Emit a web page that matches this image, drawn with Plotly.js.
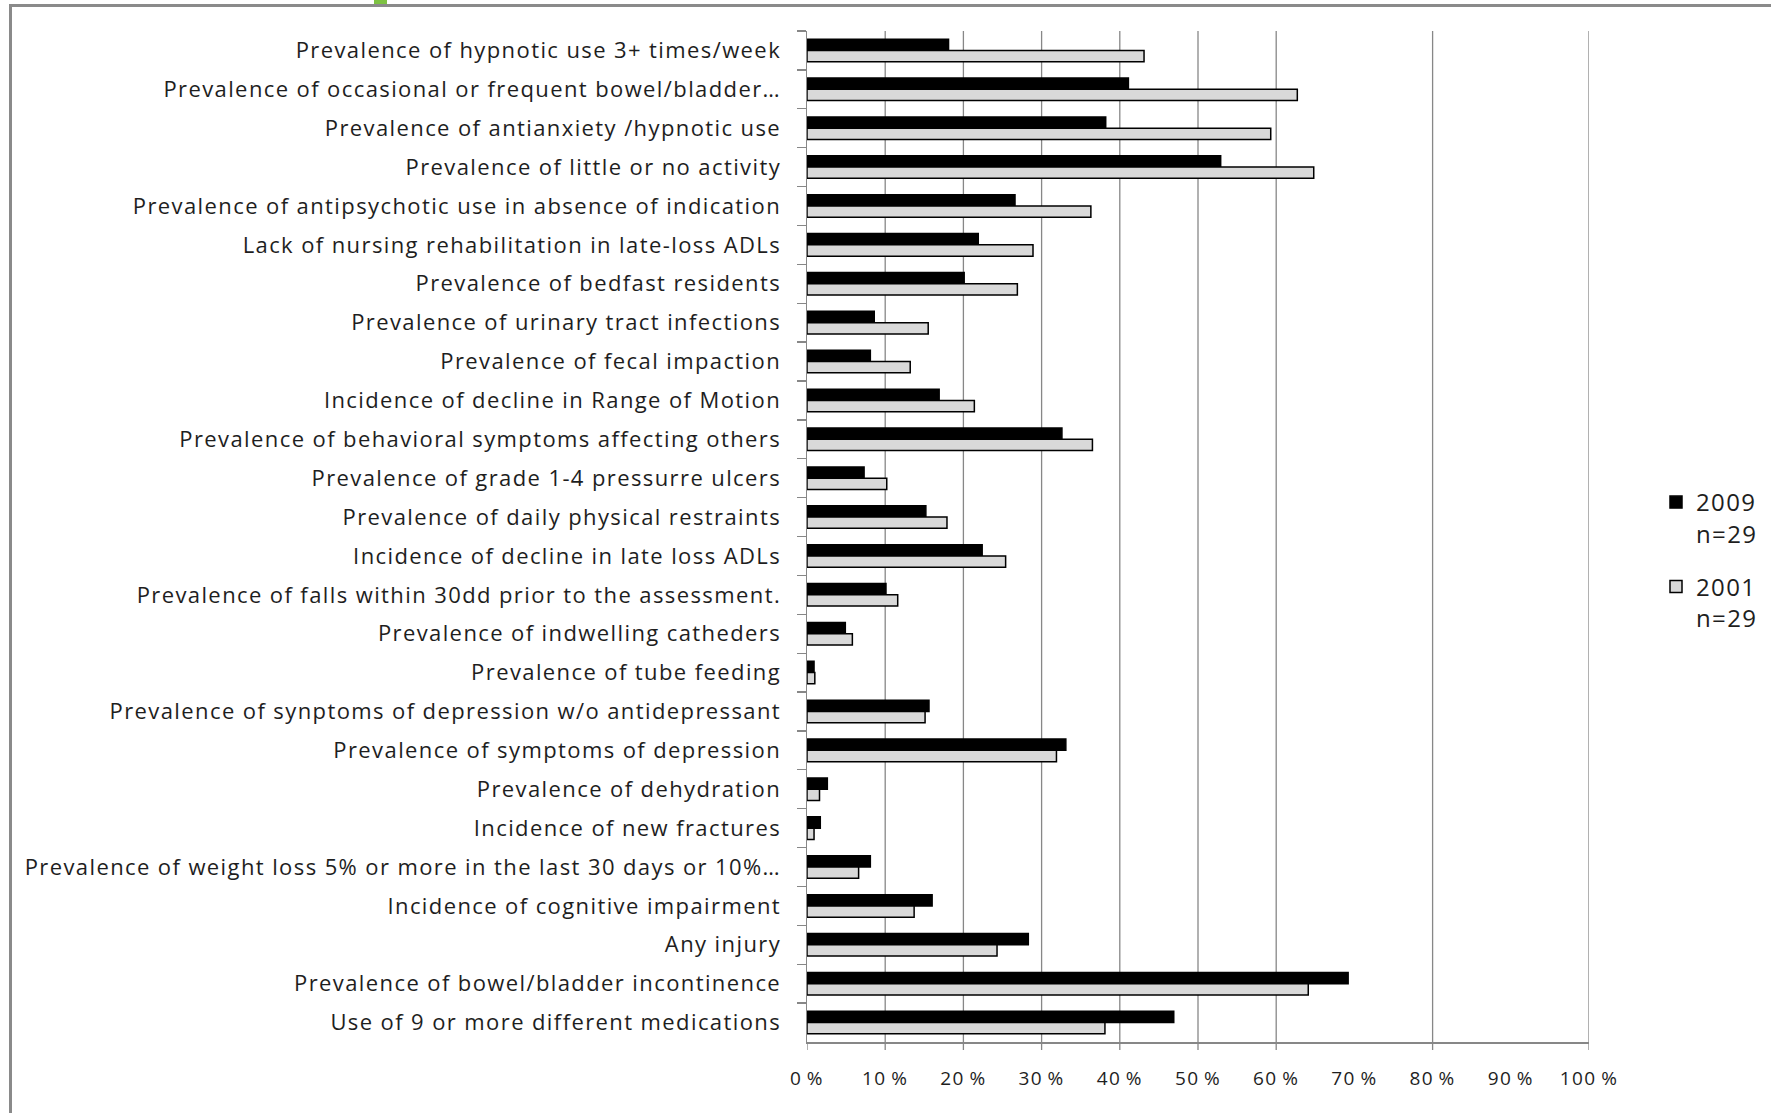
<!DOCTYPE html>
<html>
<head>
<meta charset="utf-8">
<script src="https://cdn.plot.ly/plotly-3.0.1.min.js"></script>
<style>
  html, body { margin: 0; padding: 0; background: #fff; }
  #chart { width: 1771px; height: 1113px; }
  #chart .ytick text, #chart .xtick text, #chart .legendtext { letter-spacing: 1.4px; }
</style>
</head>
<body>
<div id="chart"></div>
<script>
const categories = [
  "Prevalence of hypnotic use 3+ times/week",
  "Prevalence of occasional or frequent bowel/bladder…",
  "Prevalence of antianxiety /hypnotic use",
  "Prevalence of little or no activity",
  "Prevalence of antipsychotic use in absence of indication",
  "Lack of nursing rehabilitation in late-loss ADLs",
  "Prevalence of bedfast residents",
  "Prevalence of urinary tract infections",
  "Prevalence of fecal impaction",
  "Incidence of decline in Range of Motion",
  "Prevalence of behavioral symptoms affecting others",
  "Prevalence of grade 1-4 pressurre ulcers",
  "Prevalence of daily physical restraints",
  "Incidence of decline in late loss ADLs",
  "Prevalence of falls within 30dd prior to the assessment.",
  "Prevalence of indwelling catheders",
  "Prevalence of tube feeding",
  "Prevalence of synptoms of depression w/o antidepressant",
  "Prevalence of symptoms of depression",
  "Prevalence of dehydration",
  "Incidence of new fractures",
  "Prevalence of weight loss 5% or more in the last 30 days or 10%…",
  "Incidence of cognitive impairment",
  "Any injury",
  "Prevalence of bowel/bladder incontinence",
  "Use of 9 or more different medications"
];
const values2009 = [18.1, 41.1, 38.2, 52.9, 26.6, 21.9, 20.1, 8.6, 8.1, 16.9, 32.6, 7.3, 15.2, 22.4, 10.1, 4.9, 0.9, 15.6, 33.1, 2.6, 1.7, 8.1, 16.0, 28.3, 69.2, 46.9];
const values2001 = [43.1, 62.7, 59.3, 64.8, 36.3, 28.9, 26.9, 15.5, 13.2, 21.4, 36.5, 10.2, 17.9, 25.4, 11.6, 5.8, 1.0, 15.1, 31.9, 1.6, 0.9, 6.6, 13.7, 24.3, 64.1, 38.1];
const seriesNames = ["2009<br>n=29", "2001<br>n=29"];
const xTickVals = [0, 10, 20, 30, 40, 50, 60, 70, 80, 90, 100];
const xTickText = ["0\u2009%", "10\u2009%", "20\u2009%", "30\u2009%", "40\u2009%", "50\u2009%", "60\u2009%", "70\u2009%", "80\u2009%", "90\u2009%", "100\u2009%"];
const gridVals = [10, 20, 30, 40, 50, 60, 80, 100];
const tickMarkVals = [0, 10, 20, 30, 40, 50, 60, 80, 100];

const axisGray = "#878787";
const textColor = "#1e1e1e";
const fontFamily = "Open Sans, sans-serif";

const traces = [
  {
    type: "bar", orientation: "h",
    x: values2009, y: categories, name: seriesNames[0],
    legendgroup: "a",
    marker: { color: "#000000", line: { color: "#000000", width: 1.5 } },
    hoverinfo: "x+y"
  },
  {
    type: "bar", orientation: "h",
    x: values2001, y: categories, name: seriesNames[1],
    legendgroup: "b",
    marker: { color: "#d9d9d9", line: { color: "#000000", width: 1.5 } },
    hoverinfo: "x+y"
  }
];

// plot area geometry in px: left 807, right 1589, top 31, bottom 1042
const L = 807, R = 1589, T = 31, B = 1042;
const W = R - L, H = B - T;
const px = v => (v - L) / W;
const py = v => (B - v) / H;

const shapes = [];
gridVals.forEach(v => shapes.push({
  type: "line", layer: "below", xref: "x", yref: "paper",
  x0: v, x1: v, y0: 0, y1: 1,
  line: { color: axisGray, width: 1.3 }
}));
tickMarkVals.forEach(v => shapes.push({
  type: "line", layer: "above", xref: "x", yref: "paper",
  x0: v, x1: v, y0: 0, y1: -8 / H,
  line: { color: axisGray, width: 1.3 }
}));
// outer frame of the original picture
shapes.push({ type: "line", xref: "paper", yref: "paper",
  x0: px(9), x1: px(1775), y0: py(5.5), y1: py(5.5),
  line: { color: "#8a8a8a", width: 3 } });
shapes.push({ type: "line", xref: "paper", yref: "paper",
  x0: px(10.5), x1: px(10.5), y0: py(4), y1: py(1116),
  line: { color: "#8a8a8a", width: 3 } });
shapes.push({ type: "rect", xref: "paper", yref: "paper",
  x0: px(374), x1: px(387), y0: py(4), y1: py(-2),
  fillcolor: "#7dc242", line: { width: 0 } });

const layout = {
  width: 1771, height: 1113,
  margin: { l: L, r: 1771 - R, t: T, b: 1113 - B, pad: 0, autoexpand: false },
  paper_bgcolor: "#ffffff", plot_bgcolor: "#ffffff",
  font: { family: fontFamily, color: textColor, size: 22 },
  barmode: "group", bargap: 0.42, bargroupgap: 0,
  showlegend: true,
  legend: {
    x: px(1656), xanchor: "left", y: py(480), yanchor: "top",
    traceorder: "grouped", valign: "top",
    font: { family: fontFamily, size: 24, color: textColor },
    tracegroupgap: 19, itemwidth: 30,
    bgcolor: "rgba(0,0,0,0)"
  },
  xaxis: {
    range: [0, 100], fixedrange: true,
    tickmode: "array", tickvals: xTickVals, ticktext: xTickText,
    ticks: "", showgrid: false, zeroline: false,
    showline: true, linecolor: axisGray, linewidth: 1.5,
    tickfont: { family: fontFamily, size: 19, color: textColor },
    ticklabelstandoff: 19
  },
  yaxis: {
    type: "category", autorange: "reversed", fixedrange: true,
    showline: true, linecolor: axisGray, linewidth: 1.5,
    ticks: "outside", tickson: "boundaries", ticklen: 9, tickcolor: axisGray, tickwidth: 1.3,
    showgrid: false, zeroline: false,
    tickfont: { family: fontFamily, size: 22, color: textColor },
    ticklabelstandoff: 20
  },
  shapes: shapes
};

Plotly.newPlot("chart", traces, layout, { displayModeBar: false, staticPlot: true });
</script>
</body>
</html>
